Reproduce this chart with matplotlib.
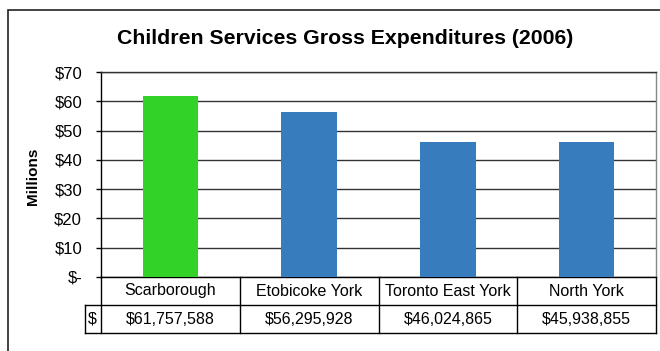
import matplotlib
matplotlib.use("Agg")
import matplotlib.pyplot as plt
from matplotlib.patches import Rectangle

plt.rcParams['font.family'] = ['Liberation Sans', 'DejaVu Sans']

# Gross expenditures by district, 2006 (dollars)
districts = ['Scarborough', 'Etobicoke York', 'Toronto East York', 'North York']
expenditures = [61757588, 56295928, 46024865, 45938855]
bar_colors = ['#32D228', '#377DBE', '#377DBE', '#377DBE']
yticks = [0, 10, 20, 30, 40, 50, 60, 70]
ytick_labels = ['$-', '$10', '$20', '$30', '$40', '$50', '$60', '$70']

W, H = 660, 351
fig = plt.figure(figsize=(W / 100, H / 100), dpi=100)

# outer chart frame (runs off the right and bottom edges)
fig.patches.append(Rectangle((8 / W, -0.1), 1.2, 1 - 10 / H + 0.1, transform=fig.transFigure,
                             fill=False, edgecolor='#222222', linewidth=1.2))

ax = fig.add_axes([101 / W, (H - 277) / H, (656 - 101) / W, (277 - 72) / H])
xs = list(range(len(districts)))
millions = [v / 1e6 for v in expenditures]
ax.bar(xs, millions, width=0.4, color=bar_colors, zorder=3)

ax.set_xlim(-0.5, len(districts) - 0.5)
ax.set_ylim(0, 70)
ax.set_yticks(yticks)
ax.set_yticklabels(ytick_labels, fontsize=12)
ax.set_xticks([])
ax.tick_params(axis='y', direction='out', length=3.6, width=1, color='black', pad=10)
ax.yaxis.grid(True, color='#333333', linewidth=1, zorder=0)
ax.spines['left'].set_color('black')
ax.spines['bottom'].set_color('black')
ax.spines['top'].set_color('#333333')
ax.spines['right'].set_color('#888888')
for s in ax.spines.values():
    s.set_linewidth(1)

fig.text(33 / W, 1 - 176 / H, 'Millions', fontsize=11, fontweight='bold',
         rotation=90, ha='center', va='center')
fig.text(345 / W, 1 - 39 / H, 'Children Services Gross Expenditures (2006)',
         fontsize=15.3, fontweight='bold', ha='center', va='center')

# data table beneath the axis
tr = ax.get_xaxis_transform()
px = 1 / (277 - 72)
row1 = -28 * px
row2 = -56 * px
dollar_left = -0.5 - 16 / 139
kw = dict(transform=tr, color='black', linewidth=1, clip_on=False)
ax.plot([dollar_left, len(districts) - 0.5], [row1, row1], **kw)
ax.plot([dollar_left, len(districts) - 0.5], [row2, row2], **kw)
ax.plot([dollar_left, dollar_left], [row1, row2], **kw)
for i in range(len(districts) + 1):
    ax.plot([i - 0.5, i - 0.5], [0, row2], **kw)
ax.text(dollar_left + 0.02, (row1 + row2) / 2, '$', transform=tr, fontsize=11.5,
        ha='left', va='center')
for i, (name, val) in enumerate(zip(districts, expenditures)):
    ax.text(i, row1 / 2, name, transform=tr, fontsize=11.5, ha='center', va='center')
    ax.text(i, (row1 + row2) / 2, '${:,.0f}'.format(val), transform=tr, fontsize=11.5,
            ha='center', va='center')

fig.savefig('out.png', dpi=100)
